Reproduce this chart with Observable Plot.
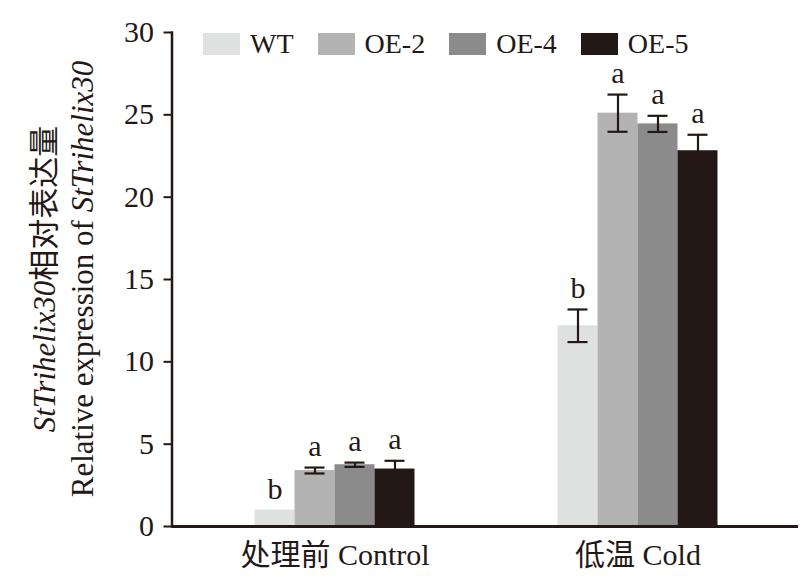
<!DOCTYPE html>
<html>
<head>
<meta charset="utf-8">
<script src="https://cdn.jsdelivr.net/npm/d3@7"></script>
<script src="https://cdn.jsdelivr.net/npm/@observablehq/plot@0.6"></script>
<style>
  html, body { margin: 0; padding: 0; background: #fff; }
  #wrap { position: relative; width: 812px; height: 583px; }
  #legend { position: absolute; left: 203px; top: 33px; display: flex; align-items: center;
    font-family: "Liberation Serif", "Times New Roman", serif; font-size: 28px; color: #231816; }
  #legend .item { display: flex; align-items: center; margin-right: 24px; line-height: 22px; }
  #legend .sw { width: 37px; height: 22px; margin-right: 10px; }
</style>
</head>
<body>
<div id="wrap"><div id="chart"></div><div id="legend"></div></div>
<script>
const groups = ["处理前 Control", "低温 Cold"];
const genotypes = ["WT", "OE-2", "OE-4", "OE-5"];
const controlMeans = [1.0, 3.4, 3.75, 3.49];
const controlSD = [0, 0.18, 0.13, 0.5];
const coldMeans = [12.19, 25.1, 24.45, 22.82];
const coldSD = [0.99, 1.13, 0.49, 0.97];
const controlLetters = ["b", "a", "a", "a"];
const coldLetters = ["b", "a", "a", "a"];
const colors = ["#dfe1e0", "#b3b3b3", "#8b8b8b", "#231816"];
const yTicks = [0, 5, 10, 15, 20, 25, 30];
const ink = "#231816";

const rows = [];
genotypes.forEach((g, i) => rows.push({group: groups[0], genotype: g, mean: controlMeans[i], sd: controlSD[i], letter: controlLetters[i]}));
genotypes.forEach((g, i) => rows.push({group: groups[1], genotype: g, mean: coldMeans[i], sd: coldSD[i], letter: coldLetters[i]}));

const serif = "'Liberation Serif', 'Times New Roman', 'Noto Sans CJK SC', serif";

// facets occupy 182.5..788.5; the axes extend a little beyond the facet frames
const axisLeftExt = 11.5, axisRightExt = 8.5;

const chart = Plot.plot({
  width: 812,
  height: 583,
  marginLeft: 182.5,
  marginRight: 23.5,
  marginTop: 32,
  marginBottom: 57,
  style: {fontFamily: serif, fontSize: "30px", color: ink, background: "#fff", overflow: "visible"},
  facet: {data: rows, x: "group"},
  fx: {domain: groups, padding: 0, axis: "bottom", tickSize: 0, tickPadding: 17, label: null},
  x: {domain: genotypes, paddingInner: 0, paddingOuter: 1.7875, axis: null},
  y: {domain: [0, 30], axis: null},
  color: {domain: genotypes, range: colors},
  marks: [
    Plot.barY(rows, {x: "genotype", y: "mean", fill: "genotype"}),
    Plot.ruleX(rows, {filter: d => d.sd > 0, x: "genotype", y1: d => d.mean - d.sd, y2: d => d.mean + d.sd, stroke: ink, strokeWidth: 2.2}),
    Plot.tickY(rows, {filter: d => d.sd > 0, x: "genotype", y: d => d.mean + d.sd, stroke: ink, strokeWidth: 2.2, insetLeft: 10, insetRight: 10}),
    Plot.tickY(rows, {filter: d => d.sd > 0, x: "genotype", y: d => d.mean - d.sd, stroke: ink, strokeWidth: 2.2, insetLeft: 10, insetRight: 10}),
    Plot.text(rows, {x: "genotype", y: d => d.mean + d.sd, text: "letter", dy: -21, fill: ink, fontSize: 30}),
    Plot.ruleY([0], {stroke: ink, strokeWidth: 2.5, shapeRendering: "crispEdges", insetLeft: -axisLeftExt, insetRight: -axisRightExt}),
    Plot.axisY({ticks: yTicks, tickSize: 8, tickPadding: 10, strokeWidth: 2, stroke: ink, fill: ink, label: null, dx: -axisLeftExt}),
    Plot.frame({anchor: "left", facetAnchor: "left", stroke: ink, strokeWidth: 2.5, dx: -axisLeftExt})
  ]
});
document.getElementById("chart").appendChild(chart);

// two-line y-axis title with italic gene name
const ys = chart.scale("y");
const mid = (ys.range[0] + ys.range[1]) / 2;
const svg = d3.select(chart.tagName.toLowerCase() === "svg" ? chart : chart.querySelector("svg"));
const t1 = svg.append("text").attr("transform", `translate(55,${mid}) rotate(-90)`)
  .attr("text-anchor", "middle").attr("fill", ink).style("font-size", "31px").style("font-family", serif);
t1.append("tspan").style("font-style", "italic").text("StTrihelix30");
t1.append("tspan").text("相对表达量");
const t2 = svg.append("text").attr("transform", `translate(93,${mid}) rotate(-90)`)
  .attr("text-anchor", "middle").attr("fill", ink).style("font-size", "31px").style("font-family", serif);
t2.append("tspan").text("Relative expression of ");
t2.append("tspan").style("font-style", "italic").text("StTrihelix30");

// legend
const lg = d3.select("#legend");
genotypes.forEach((g, i) => {
  const it = lg.append("div").attr("class", "item");
  it.append("div").attr("class", "sw").style("background", colors[i]);
  it.append("span").text(g);
});
</script>
</body>
</html>
